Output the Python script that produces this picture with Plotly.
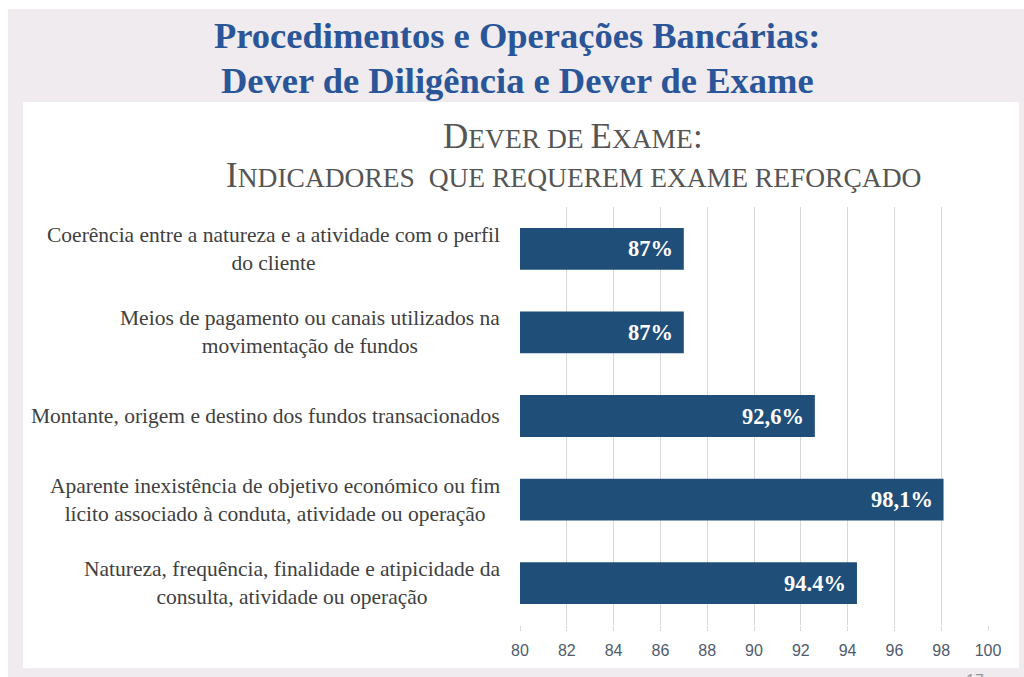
import plotly.graph_objects as go

# ---- data ----
categories = [
    "Coerência entre a natureza e a atividade com o perfil<br>do cliente",
    "Meios de pagamento ou canais utilizados na<br>movimentação de fundos",
    "Montante, origem e destino dos fundos transacionados",
    "Aparente inexistência de objetivo económico ou fim<br>lícito associado à conduta, atividade ou operação",
    "Natureza, frequência, finalidade e atipicidade da<br>consulta, atividade ou operação",
]
values = [87, 87, 92.6, 98.1, 94.4]
value_labels = ["87%", "87%", "92,6%", "98,1%", "94.4%"]
x_ticks = [80, 82, 84, 86, 88, 90, 92, 94, 96, 98, 100]

title_line1 = "Procedimentos e Operações Bancárias:"
title_line2 = "Dever de Diligência e Dever de Exame"
page_number = "17"

# ---- layout constants (pixels) ----
W, H = 1024, 677
ML, MR, MT, MB = 520, 36, 207, 52
PW, PH = W - ML - MR, H - MT - MB


def px_x(px):
    return (px - ML) / PW


def px_y(py):
    return (H - MB - py) / PH


BAR = "#1f4e79"
SERIF = "Liberation Serif, Times New Roman, serif"

fig = go.Figure()
fig.add_trace(go.Bar(
    x=values, y=categories, orientation="h",
    marker=dict(color=BAR, line=dict(width=0)),
    hoverinfo="skip",
))

ann = []
# category labels (centred multi-line, right edge near plot)
for c in categories:
    ann.append(dict(
        x=0, xref="paper", y=c, yref="y", xanchor="right", yanchor="middle",
        xshift=-18, text=c, showarrow=False, align="center",
        font=dict(family=SERIF, size=21.5, color="#404040"),
    ))
# value labels inside bar ends
for c, v, t in zip(categories, values, value_labels):
    ann.append(dict(
        x=v, xref="x", y=c, yref="y", xanchor="right", yanchor="middle",
        xshift=-9, text="<b>" + t + "</b>", showarrow=False,
        font=dict(family=SERIF, size=22.5, color="white"),
    ))

# main title
ann.append(dict(x=px_x(517), y=px_y(35), xref="paper", yref="paper", text="<b>" + title_line1 + "</b>",
                showarrow=False, xanchor="center", yanchor="middle",
                font=dict(family=SERIF, size=36.5, color="#2a5599")))
ann.append(dict(x=px_x(517), y=px_y(80), xref="paper", yref="paper", text="<b>" + title_line2 + "</b>",
                showarrow=False, xanchor="center", yanchor="middle",
                font=dict(family=SERIF, size=36.5, color="#2a5599")))


def sc(s):
    return "<span style='font-size:27.5px'>" + s + "</span>"


sub1 = "D" + sc("EVER DE ") + "E" + sc("XAME") + ":"
sub2 = "I" + sc("NDICADORES&nbsp; QUE REQUEREM EXAME REFORÇADO")
ann.append(dict(x=px_x(573), y=px_y(137), xref="paper", yref="paper", text=sub1,
                showarrow=False, xanchor="center", yanchor="middle",
                font=dict(family=SERIF, size=35, color="#555555")))
ann.append(dict(x=px_x(573), y=px_y(176), xref="paper", yref="paper", text=sub2,
                showarrow=False, xanchor="center", yanchor="middle",
                font=dict(family=SERIF, size=35, color="#555555")))
ann.append(dict(x=px_x(975), y=px_y(680), xref="paper", yref="paper", text=page_number,
                showarrow=False, xanchor="center", yanchor="middle",
                font=dict(family="Liberation Sans", size=16, color="#9a9a9a")))

shapes = [
    dict(type="rect", xref="paper", yref="paper", x0=px_x(8), x1=px_x(1030), y0=px_y(9), y1=px_y(690),
         fillcolor="#efebee", line=dict(width=0), layer="below"),
    dict(type="rect", xref="paper", yref="paper", x0=px_x(23), x1=px_x(1019), y0=px_y(102), y1=px_y(668),
         fillcolor="white", line=dict(width=0), layer="below"),
]

fig.update_layout(
    width=W, height=H,
    margin=dict(l=ML, r=MR, t=MT, b=MB, pad=0),
    paper_bgcolor="white", plot_bgcolor="rgba(0,0,0,0)",
    bargap=0.5, showlegend=False,
    annotations=ann, shapes=shapes,
    xaxis=dict(range=[80, 100], tickvals=x_ticks, showgrid=True, gridcolor="#d9d9d9", gridwidth=1,
               zeroline=False, showline=False, ticks="outside", ticklen=5, tickcolor="#d9d9d9",
               ticklabelstandoff=6,
               tickfont=dict(family="Liberation Sans, Arial", size=16, color="#4f5b6d")),
    yaxis=dict(autorange="reversed", showticklabels=False, showgrid=False, zeroline=False, showline=False),
)

fig.write_html("out.html", post_script="document.body.style.margin='0';",
               config={"displayModeBar": False})
